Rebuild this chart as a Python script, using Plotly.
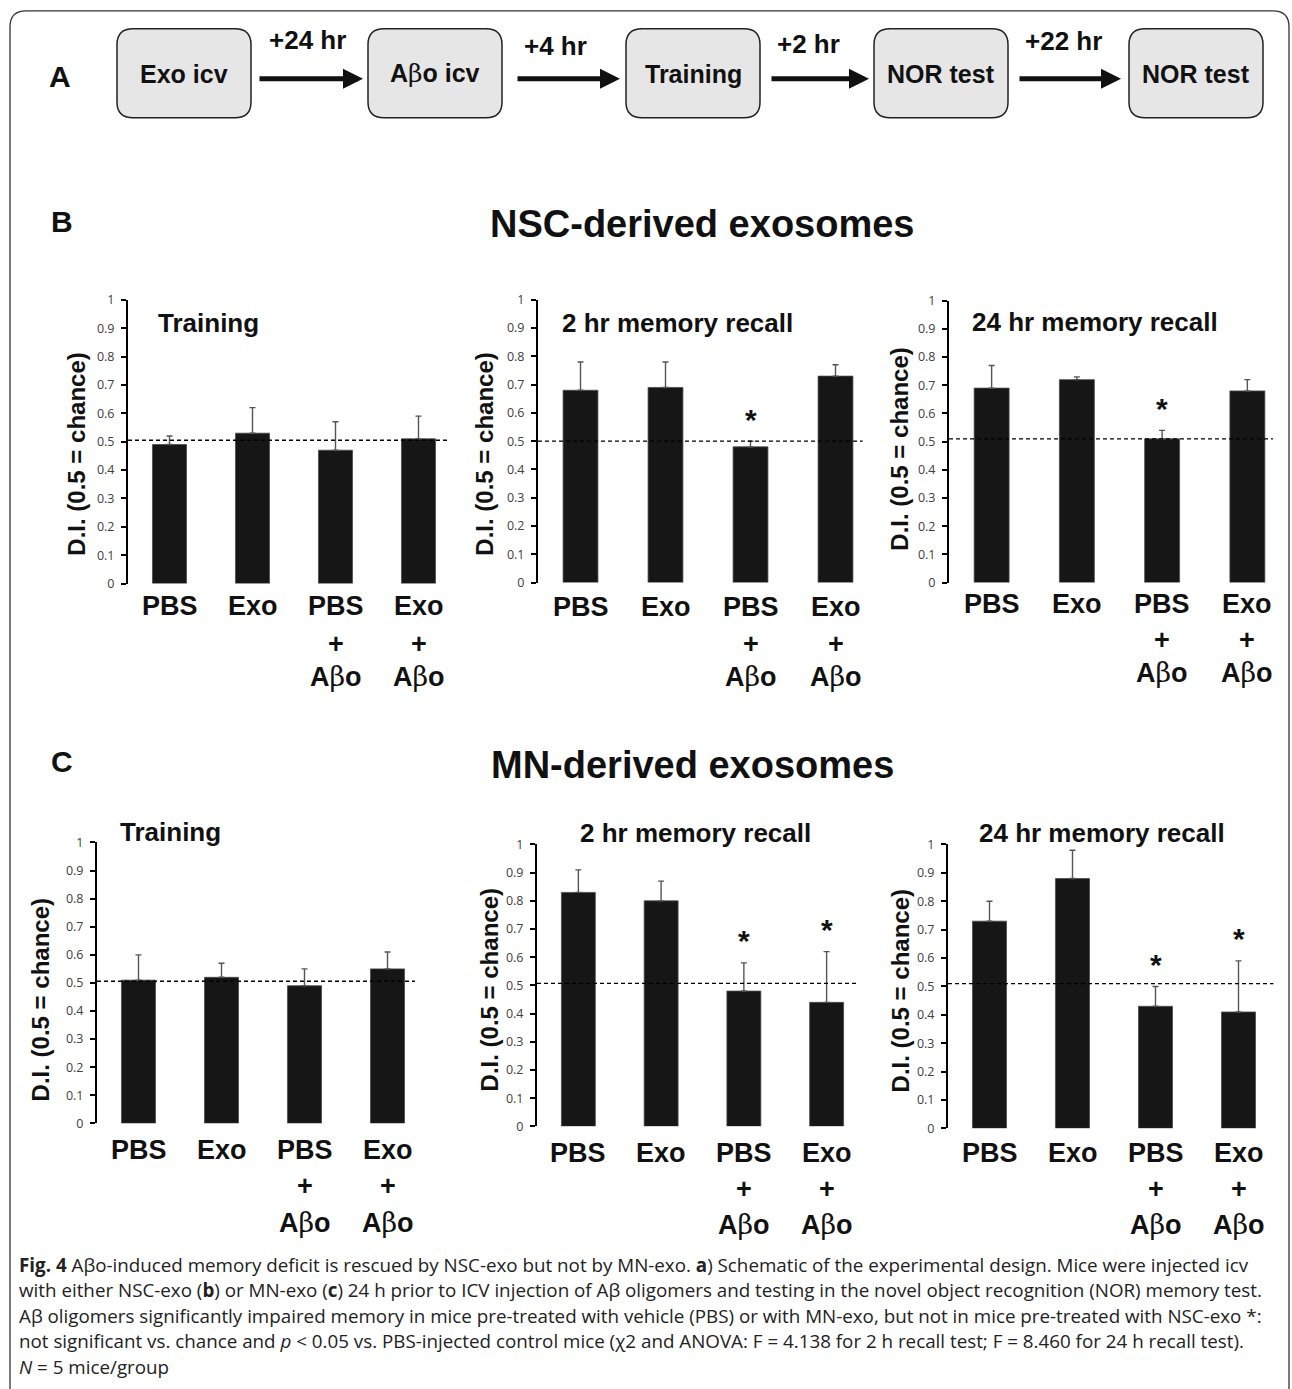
import plotly.graph_objects as go

W, H = 1292, 1389

# ---------------- data ----------------
categories = ["PBS", "Exo", "PBS + Aβo", "Exo + Aβo"]
label_line1 = ["PBS", "Exo", "PBS", "Exo"]
label_line2 = ["", "", "+", "+"]
label_line3 = ["", "", "Aβo", "Aβo"]

panel_titles = ["Training", "2 hr memory recall", "24 hr memory recall",
                "Training", "2 hr memory recall", "24 hr memory recall"]
y_title = "D.I. (0.5 = chance)"
y_tick_vals = [0, 0.1, 0.2, 0.3, 0.4, 0.5, 0.6, 0.7, 0.8, 0.9, 1]
y_tick_text = ["0", "0.1", "0.2", "0.3", "0.4", "0.5", "0.6", "0.7", "0.8", "0.9", "1"]

# B: NSC-derived exosomes
nsc_training = [0.49, 0.53, 0.47, 0.51]
nsc_training_err = [0.03, 0.09, 0.10, 0.08]
nsc_2hr = [0.68, 0.69, 0.48, 0.73]
nsc_2hr_err = [0.10, 0.09, 0.02, 0.04]
nsc_24hr = [0.69, 0.72, 0.51, 0.68]
nsc_24hr_err = [0.08, 0.01, 0.03, 0.04]
# C: MN-derived exosomes
mn_training = [0.51, 0.52, 0.49, 0.55]
mn_training_err = [0.09, 0.05, 0.06, 0.06]
mn_2hr = [0.83, 0.80, 0.48, 0.44]
mn_2hr_err = [0.08, 0.07, 0.10, 0.18]
mn_24hr = [0.73, 0.88, 0.43, 0.41]
mn_24hr_err = [0.07, 0.10, 0.07, 0.18]

values = [nsc_training, nsc_2hr, nsc_24hr, mn_training, mn_2hr, mn_24hr]
errors = [nsc_training_err, nsc_2hr_err, nsc_24hr_err, mn_training_err, mn_2hr_err, mn_24hr_err]
significant = [[0, 0, 0, 0], [0, 0, 1, 0], [0, 0, 1, 0],
               [0, 0, 0, 0], [0, 0, 1, 1], [0, 0, 1, 1]]
chance_level = [0.505, 0.50, 0.51, 0.506, 0.507, 0.51]

flow_steps = ["Exo icv", "Aβo icv", "Training", "NOR test", "NOR test"]
flow_delays = ["+24 hr", "+4 hr", "+2 hr", "+22 hr"]

section_titles = ["NSC-derived exosomes", "MN-derived exosomes"]
caption_lines = [
    "<b>Fig. 4</b> Aβo-induced memory deficit is rescued by NSC-exo but not by MN-exo. <b>a</b>) Schematic of the experimental design. Mice were injected icv",
    "with either NSC-exo (<b>b</b>) or MN-exo (<b>c</b>) 24 h prior to ICV injection of Aβ oligomers and testing in the novel object recognition (NOR) memory test.",
    "Aβ oligomers significantly impaired memory in mice pre-treated with vehicle (PBS) or with MN-exo, but not in mice pre-treated with NSC-exo *:",
    "not significant vs. chance and <i>p</i> &lt; 0.05 vs. PBS-injected control mice (χ2 and ANOVA: F = 4.138 for 2 h recall test; F = 8.460 for 24 h recall test).",
    "<i>N</i> = 5 mice/group",
]

# ---------------- layout helpers ----------------
# vertical correction for the capture pipeline (measured: shown = 9.13 + 0.9882 * drawn)
Y_OFF, Y_SCALE = 9.13, 0.9882


def fx(p):
    return p / W


def fy(p):
    return 1 - ((p - Y_OFF) / Y_SCALE) / H


BETA = '<span style="font-family:\'DejaVu Serif\';font-weight:normal">β</span>'


def beta(s):
    return s.replace("β", BETA)


SANS = "Liberation Sans, Arial, Helvetica, sans-serif"

# plot areas in pixels: x_left, x_right, y_top(=1), y_bottom(=0)
panel_px = [
    (128, 460, 300, 584),
    (538, 878, 300, 583),
    (949, 1290, 301, 583),
    (97, 429, 843, 1124),
    (537, 868, 845, 1127),
    (948, 1280, 845, 1129),
]
dash_end = [3.38, 3.32, 3.30, 3.33, 3.37, 3.42]
title_px = [(208, 323), (678, 323), (1095, 322), (170, 832), (695, 833), (1102, 833)]
ytitle_px = [(77, 455), (485, 455), (900, 450), (40, 1001), (489, 991), (900, 992)]
xlabel_rows_px = [
    (606, 644, 677), (607, 644, 677), (604, 640, 673),
    (1151, 1187, 1223), (1154, 1190, 1225), (1154, 1190, 1225),
]

fig = go.Figure()
layout = dict(
    width=W, height=H, margin=dict(l=0, r=0, t=0, b=0),
    paper_bgcolor="white", plot_bgcolor="white", showlegend=False,
    bargap=0.59, font=dict(family=SANS, color="black"),
)
annotations = []
shapes = []

for i in range(6):
    sfx = "" if i == 0 else str(i + 1)
    x0, x1, yt, yb = panel_px[i]
    fig.add_trace(go.Bar(
        x=list(range(4)), y=values[i], xaxis="x" + sfx, yaxis="y" + sfx,
        marker=dict(color="#161616", line=dict(color="#4a4a4a", width=0.8)),
        error_y=dict(type="data", array=errors[i], arrayminus=[0] * 4, symmetric=False,
                     color="#555555", thickness=1.4, width=3),
        hovertext=categories, hoverinfo="text+y",
    ))
    layout["xaxis" + sfx] = dict(
        domain=[fx(x0), fx(x1)], anchor="y" + sfx, range=[-0.5, 3.5],
        showticklabels=False, showline=False, showgrid=False, zeroline=False, ticks="",
        fixedrange=True,
    )
    layout["yaxis" + sfx] = dict(
        domain=[fy(yb), fy(yt)], anchor="x" + sfx, range=[0, 1],
        tickvals=y_tick_vals, ticktext=y_tick_text, ticks="outside", ticklen=5,
        tickwidth=1.5, tickcolor="black", showline=True, linewidth=2, linecolor="black",
        showgrid=False, zeroline=False, ticklabelstandoff=4,
        tickfont=dict(family="Open Sans, sans-serif", size=12.5, color="#404040"),
        fixedrange=True,
    )
    # chance line
    shapes.append(dict(type="line", xref="x" + sfx, yref="y" + sfx,
                       x0=-0.5, x1=dash_end[i], y0=chance_level[i], y1=chance_level[i],
                       line=dict(color="black", width=1.3, dash="4px,3px")))
    # panel title
    tx, ty = title_px[i]
    annotations.append(dict(xref="paper", yref="paper", x=fx(tx), y=fy(ty),
                            text="<b>%s</b>" % panel_titles[i], showarrow=False,
                            xanchor="center", yanchor="middle",
                            font=dict(family=SANS, size=26, color="#111")))
    # y title
    ax_, ay_ = ytitle_px[i]
    annotations.append(dict(xref="paper", yref="paper", x=fx(ax_), y=fy(ay_),
                            text="<b>%s</b>" % y_title, showarrow=False, textangle=-90,
                            xanchor="center", yanchor="middle",
                            font=dict(family=SANS, size=24, color="#111")))
    # category labels
    rows = xlabel_rows_px[i]
    for j in range(4):
        for txt, ry in zip((label_line1[j], label_line2[j], label_line3[j]), rows):
            if txt:
                annotations.append(dict(xref="x" + sfx, yref="paper", x=j, y=fy(ry),
                                        text="<b>%s</b>" % beta(txt), showarrow=False,
                                        xanchor="center", yanchor="middle",
                                        font=dict(family=SANS, size=27, color="#111")))
        if significant[i][j]:
            annotations.append(dict(xref="x" + sfx, yref="y" + sfx, x=j,
                                    y=values[i][j] + errors[i][j], yshift=22,
                                    text="<b>*</b>", showarrow=False,
                                    xanchor="center", yanchor="middle",
                                    font=dict(family=SANS, size=30, color="#111")))

# ---------------- panel A: flow diagram ----------------
def rrect(x0, y0, x1, y1, r):
    rx, ry = r / W, r / H
    X0, X1, Y0, Y1 = fx(x0), fx(x1), fy(y0), fy(y1)
    return ("M %f,%f L %f,%f Q %f,%f %f,%f L %f,%f Q %f,%f %f,%f L %f,%f Q %f,%f %f,%f "
            "L %f,%f Q %f,%f %f,%f Z") % (
        X0 + rx, Y0, X1 - rx, Y0, X1, Y0, X1, Y0 - ry, X1, Y1 + ry, X1, Y1, X1 - rx, Y1,
        X0 + rx, Y1, X0, Y1, X0, Y1 + ry, X0, Y0 - ry, X0, Y0, X0 + rx, Y0)


box_x0 = [117, 368, 626, 874, 1129]
box_w = 134
box_y = (29, 118)
for k, lab in enumerate(flow_steps):
    shapes.append(dict(type="path", xref="paper", yref="paper",
                       path=rrect(box_x0[k], box_y[0], box_x0[k] + box_w, box_y[1], 16),
                       fillcolor="#e6e6e6", line=dict(color="#222", width=1.5), layer="below"))
    annotations.append(dict(xref="paper", yref="paper", x=fx(box_x0[k] + box_w / 2), y=fy(74),
                            text="<b>%s</b>" % beta(lab), showarrow=False,
                            xanchor="center", yanchor="middle",
                            font=dict(family=SANS, size=25, color="#111")))

arrow_px = [(258, 363), (516, 620), (770, 869), (1018, 1121)]
delay_px = [(307, 40), (555, 46), (808, 44), (1063, 41)]
for k, d in enumerate(flow_delays):
    a0, a1 = arrow_px[k]
    annotations.append(dict(xref="paper", yref="paper", x=fx(a1), y=fy(79),
                            ax=-(a1 - a0), ay=0, axref="pixel", ayref="pixel",
                            text="", showarrow=True, arrowhead=2, arrowsize=0.8,
                            arrowwidth=5, arrowcolor="#111"))
    dx, dy = delay_px[k]
    annotations.append(dict(xref="paper", yref="paper", x=fx(dx), y=fy(dy),
                            text="<b>%s</b>" % d, showarrow=False,
                            xanchor="center", yanchor="middle",
                            font=dict(family=SANS, size=26, color="#111")))

# panel letters and section titles
for letter, (lx, ly) in zip(["A", "B", "C"], [(60, 77), (62, 222), (62, 762)]):
    annotations.append(dict(xref="paper", yref="paper", x=fx(lx), y=fy(ly),
                            text="<b>%s</b>" % letter, showarrow=False,
                            xanchor="center", yanchor="middle",
                            font=dict(family=SANS, size=30, color="#111")))
for t, (sx, sy) in zip(section_titles, [(703, 224), (692, 765)]):
    annotations.append(dict(xref="paper", yref="paper", x=fx(sx), y=fy(sy),
                            text="<b>%s</b>" % t, showarrow=False,
                            xanchor="center", yanchor="middle",
                            font=dict(family=SANS, size=38, color="#111")))

# caption
cap_y = [1266, 1291, 1317, 1342, 1368]
for line, cy in zip(caption_lines, cap_y):
    annotations.append(dict(xref="paper", yref="paper", x=fx(17), y=fy(cy),
                            text=line, showarrow=False, xanchor="left", yanchor="middle",
                            font=dict(family="Open Sans, sans-serif", size=18.8, color="#222")))

# outer rounded frame (top, left, right)
r = 16
bx0, by0, bx1, by1 = 10, 11, 1289, 1400
shapes.append(dict(type="path", xref="paper", yref="paper",
                   path="M %f,%f L %f,%f Q %f,%f %f,%f L %f,%f Q %f,%f %f,%f L %f,%f" % (
                       fx(bx0), fy(by1), fx(bx0), fy(by0 + r), fx(bx0), fy(by0), fx(bx0 + r), fy(by0),
                       fx(bx1 - r), fy(by0), fx(bx1), fy(by0), fx(bx1), fy(by0 + r), fx(bx1), fy(by1)),
                   line=dict(color="#333", width=1.3), layer="below"))

layout["annotations"] = annotations
layout["shapes"] = shapes
fig.update_layout(**layout)

page_fix = """
var de = document.documentElement, b = document.body;
[de, b].forEach(function(el){
  el.style.margin = '0'; el.style.padding = '0'; el.style.overflow = 'hidden';
});
"""
fig.write_html("out.html", post_script=page_fix, config={"displayModeBar": False})
